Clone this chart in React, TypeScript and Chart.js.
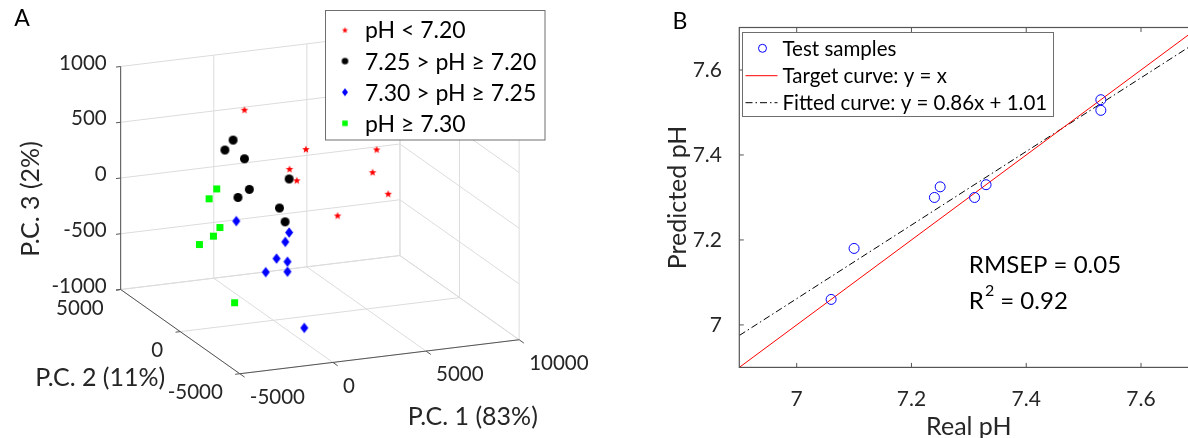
import React, { useEffect, useRef } from 'react';
import { Chart, registerables } from 'chart.js';

Chart.register(...registerables);

const FAMILY = 'Lato, "Open Sans", "DejaVu Sans", sans-serif';
const TEXT = '#262626';
const AXIS = '#555555';
const GRID = '#dcdcdc';

// ---------------- Panel A : PCA scores ----------------
const groupLabels = ['pH < 7.20', '7.25 > pH ≥ 7.20', '7.30 > pH ≥ 7.25', 'pH ≥ 7.30'];

const redPC1 = [-1550, 1750, 5550, 870, 1260, 5330, 6170, 3450];
const redPC2 = [0, 0, 0, 0, 0, 0, 0, 0];
const redPC3 = [920, 500, 420, 340, 230, 220, 10, -130];

const blackPC1 = [-2160, -2600, -1550, 850, -1290, -1900, 330, 630];
const blackPC2 = [0, 0, 0, 0, 0, 0, 0, 0];
const blackPC3 = [660, 580, 480, 250, 200, 140, 0, -130];

const bluePC1 = [-1990, 850, 640, 170, 760, -410, 760, 380];
const bluePC2 = [0, 0, 0, 0, 0, 0, 0, -2000];
const bluePC3 = [-70, -230, -310, -450, -490, -560, -580, -925];

const greenPC1 = [-3040, -3450, -2870, -3220, -3970, -2080];
const greenPC2 = [0, 0, 0, 0, 0, 0];
const greenPC3 = [240, 160, -110, -180, -240, -800];

const pc1Ticks = [-5000, 0, 5000, 10000];
const pc2Ticks = [5000, 0, -5000];
const pc3Ticks = [-1000, -500, 0, 500, 1000];

const pcTitles = ['P.C. 1 (83%)', 'P.C. 2 (11%)', 'P.C. 3 (2%)'];

// ---------------- Panel B : predicted vs real pH ----------------
const realPH = [7.06, 7.1, 7.24, 7.25, 7.31, 7.33, 7.53, 7.53];
const predictedPH = [7.06, 7.18, 7.3, 7.325, 7.3, 7.33, 7.53, 7.505];
const phTicks = [7, 7.2, 7.4, 7.6];
const phRange = [6.9, 7.7];
const seriesLabelsB = ['Test samples', 'Target curve: y = x', 'Fitted curve: y = 0.86x + 1.01'];
const statsText = ['RMSEP = 0.05', '0.92'];
const statsPos = { x: 7.3, y: [7.14, 7.055] };

// view geometry of the 3-D axes box (orthographic projection)
const view = {
  originX: 117,
  originY: 291.5,
  pc1: [0.019, -0.00233],
  pc2: [-0.01216, -0.00866],
  pc3: [0, -0.11465],
};
const PC1_MIN = pc1Ticks[0];
const PC1_MAX = pc1Ticks[pc1Ticks.length - 1];
const PC2_MAX = pc2Ticks[0];
const PC2_MIN = pc2Ticks[pc2Ticks.length - 1];
const PC3_MIN = pc3Ticks[0];
const PC3_MAX = pc3Ticks[pc3Ticks.length - 1];

function project(p1: number, p2: number, p3: number) {
  const d1 = p1 - PC1_MIN;
  const d2 = p2 - PC2_MAX;
  const d3 = p3 - PC3_MIN;
  return {
    x: view.originX + d1 * view.pc1[0] + d2 * view.pc2[0] + d3 * view.pc3[0],
    y: view.originY + d1 * view.pc1[1] + d2 * view.pc2[1] + d3 * view.pc3[1],
  };
}

function makeMarker(kind: string, color: string, w: number, h: number): HTMLCanvasElement {
  const c = document.createElement('canvas');
  c.width = Math.ceil(w + 2);
  c.height = Math.ceil(h + 2);
  const g = c.getContext('2d')!;
  const cx = c.width / 2;
  const cy = c.height / 2;
  g.fillStyle = color;
  g.beginPath();
  if (kind === 'star') {
    const R = w / 2;
    const r = R * 0.42;
    for (let i = 0; i < 10; i++) {
      const ang = -Math.PI / 2 + (i * Math.PI) / 5;
      const rad = i % 2 === 0 ? R : r;
      const px = cx + rad * Math.cos(ang);
      const py = cy + rad * Math.sin(ang) + R * 0.1;
      if (i === 0) g.moveTo(px, py);
      else g.lineTo(px, py);
    }
    g.closePath();
  } else if (kind === 'circle') {
    g.arc(cx, cy, w / 2, 0, Math.PI * 2);
  } else if (kind === 'diamond') {
    g.moveTo(cx, cy - h / 2);
    g.lineTo(cx + w / 2, cy);
    g.lineTo(cx, cy + h / 2);
    g.lineTo(cx - w / 2, cy);
    g.closePath();
  } else {
    g.rect(cx - w / 2, cy - h / 2, w, h);
  }
  g.fill();
  return c;
}

function lsFit(xs: number[], ys: number[]) {
  const n = xs.length;
  const mx = xs.reduce((s, v) => s + v, 0) / n;
  const my = ys.reduce((s, v) => s + v, 0) / n;
  let sxx = 0;
  let sxy = 0;
  for (let i = 0; i < n; i++) {
    sxx += (xs[i] - mx) * (xs[i] - mx);
    sxy += (xs[i] - mx) * (ys[i] - my);
  }
  const slope = sxy / sxx;
  return { slope, intercept: my - slope * mx };
}

export default function App() {
  const refA = useRef<HTMLCanvasElement>(null);
  const refB = useRef<HTMLCanvasElement>(null);

  useEffect(() => {
    document.body.style.margin = '0';
    const groups = [
      { label: groupLabels[0], pc1: redPC1, pc2: redPC2, pc3: redPC3, marker: makeMarker('star', '#ff0000', 8, 8), legend: makeMarker('star', '#ff0000', 6.5, 6.5) },
      { label: groupLabels[1], pc1: blackPC1, pc2: blackPC2, pc3: blackPC3, marker: makeMarker('circle', '#000000', 9, 9), legend: makeMarker('circle', '#000000', 6.5, 6.5) },
      { label: groupLabels[2], pc1: bluePC1, pc2: bluePC2, pc3: bluePC3, marker: makeMarker('diamond', '#0000ff', 8, 10.5), legend: makeMarker('diamond', '#0000ff', 6, 8) },
      { label: groupLabels[3], pc1: greenPC1, pc2: greenPC2, pc3: greenPC3, marker: makeMarker('square', '#00ff00', 7, 7), legend: makeMarker('square', '#00ff00', 5.5, 5.5) },
    ];

    const pcaFrame = {
      id: 'pcaFrame',
      beforeDatasetsDraw(chart: any) {
        const ctx = chart.ctx;
        const sx = chart.scales.x;
        const sy = chart.scales.y;
        const P = (a: number, b: number, c: number) => {
          const q = project(a, b, c);
          return [sx.getPixelForValue(q.x), sy.getPixelForValue(q.y)];
        };
        const seg = (p: number[], q: number[]) => {
          ctx.beginPath();
          ctx.moveTo(p[0], p[1]);
          ctx.lineTo(q[0], q[1]);
          ctx.stroke();
        };
        ctx.save();
        ctx.lineWidth = 1;
        ctx.strokeStyle = GRID;
        // back wall (P.C. 2 = max)
        pc3Ticks.forEach((v) => seg(P(PC1_MIN, PC2_MAX, v), P(PC1_MAX, PC2_MAX, v)));
        pc1Ticks.forEach((v) => seg(P(v, PC2_MAX, PC3_MIN), P(v, PC2_MAX, PC3_MAX)));
        // side wall (P.C. 1 = max)
        pc3Ticks.forEach((v) => seg(P(PC1_MAX, PC2_MAX, v), P(PC1_MAX, PC2_MIN, v)));
        pc2Ticks.forEach((v) => seg(P(PC1_MAX, v, PC3_MIN), P(PC1_MAX, v, PC3_MAX)));
        // floor (P.C. 3 = min)
        pc1Ticks.forEach((v) => seg(P(v, PC2_MAX, PC3_MIN), P(v, PC2_MIN, PC3_MIN)));
        pc2Ticks.forEach((v) => seg(P(PC1_MIN, v, PC3_MIN), P(PC1_MAX, v, PC3_MIN)));

        // axis lines
        ctx.strokeStyle = AXIS;
        seg(P(PC1_MIN, PC2_MAX, PC3_MIN), P(PC1_MIN, PC2_MAX, PC3_MAX));
        seg(P(PC1_MIN, PC2_MAX, PC3_MIN), P(PC1_MIN, PC2_MIN, PC3_MIN));
        seg(P(PC1_MIN, PC2_MIN, PC3_MIN), P(PC1_MAX, PC2_MIN, PC3_MIN));
        // tick marks
        pc3Ticks.forEach((v) => seg(P(PC1_MIN, PC2_MAX, v), P(PC1_MIN - 250, PC2_MAX, v)));
        pc2Ticks.forEach((v) => seg(P(PC1_MIN, v, PC3_MIN), P(PC1_MIN - 250, v, PC3_MIN)));
        pc1Ticks.forEach((v) => seg(P(v, PC2_MIN, PC3_MIN), P(v, PC2_MIN - 400, PC3_MIN)));

        // tick labels
        ctx.fillStyle = TEXT;
        ctx.font = `20.5px ${FAMILY}`;
        ctx.textBaseline = 'middle';
        ctx.textAlign = 'right';
        pc3Ticks.forEach((v) => {
          const p = P(PC1_MIN, PC2_MAX, v);
          ctx.fillText(String(v), p[0] - 14, p[1] - 3.5);
        });
        pc2Ticks.forEach((v) => {
          const p = P(PC1_MIN, v, PC3_MIN);
          ctx.fillText(String(v), p[0] - 17, p[1] + 19);
        });
        ctx.textAlign = 'left';
        pc1Ticks.forEach((v) => {
          const p = P(v, PC2_MIN, PC3_MIN);
          ctx.fillText(String(v), p[0] + 10, p[1] + 23.5);
        });

        // axis titles
        ctx.font = `25px ${FAMILY}`;
        ctx.textAlign = 'center';
        const t1 = P(5200, PC2_MIN, PC3_MIN);
        ctx.fillText(pcTitles[0], t1[0] + 43, t1[1] + 66);
        ctx.textAlign = 'right';
        const t2 = P(PC1_MIN, 0, PC3_MIN);
        ctx.fillText(pcTitles[1], t2[0] - 15, t2[1] + 46);
        const t3 = P(PC1_MIN, PC2_MAX, 0);
        ctx.save();
        ctx.translate(t3[0] - 90, t3[1] + 21);
        ctx.rotate(-Math.PI / 2);
        ctx.textAlign = 'center';
        ctx.fillText(pcTitles[2], 0, 0);
        ctx.restore();

        // panel letter
        ctx.font = `23px ${FAMILY}`;
        ctx.textAlign = 'center';
        ctx.fillStyle = '#000';
        ctx.fillText('A', 22, 19);
        ctx.restore();
      },
      afterDraw(chart: any) {
        const ctx = chart.ctx;
        ctx.save();
        const bx = 325.5;
        const by = 10.5;
        const bw = 219.5;
        const bh = 129.5;
        ctx.fillStyle = '#fff';
        ctx.fillRect(bx, by, bw, bh);
        ctx.strokeStyle = '#6e6e6e';
        ctx.lineWidth = 1;
        ctx.strokeRect(bx, by, bw, bh);
        ctx.font = `23px ${FAMILY}`;
        ctx.fillStyle = '#000';
        ctx.textAlign = 'left';
        ctx.textBaseline = 'middle';
        groups.forEach((g, i) => {
          const y = by + 19.5 + i * 31.1;
          const m = g.legend;
          ctx.drawImage(m, bx + 19.5 - m.width / 2, y - m.height / 2);
          ctx.fillText(g.label, bx + 39.5, y + 1);
        });
        ctx.restore();
      },
    };

    const chartA = new Chart(refA.current!, {
      type: 'scatter',
      data: {
        datasets: groups.map((g) => ({
          label: g.label,
          data: g.pc1.map((v, i) => project(v, g.pc2[i], g.pc3[i])),
          pointStyle: g.marker as any,
          pointRadius: 5,
          pointHoverRadius: 5,
        })),
      },
      options: {
        animation: false,
        responsive: false,
        events: [],
        layout: { padding: 0 },
        plugins: { legend: { display: false }, tooltip: { enabled: false } },
        scales: {
          x: { type: 'linear', display: false, min: 0, max: 600 },
          y: { type: 'linear', display: false, min: 0, max: 438, reverse: true },
        },
      },
      plugins: [pcaFrame],
    } as any);

    // ---------------- Panel B ----------------
    const fit = lsFit(realPH, predictedPH);
    const dashDot = [7, 3, 1.5, 3];

    const boxB = {
      id: 'boxB',
      afterDatasetsDraw(chart: any) {
        const ctx = chart.ctx;
        const a = chart.chartArea;
        const sx = chart.scales.x;
        const sy = chart.scales.y;
        ctx.save();
        ctx.strokeStyle = AXIS;
        ctx.lineWidth = 1.2;
        ctx.strokeRect(a.left, a.top, a.right - a.left, a.bottom - a.top);
        ctx.lineWidth = 1;
        phTicks.forEach((v) => {
          const x = sx.getPixelForValue(v);
          ctx.beginPath();
          ctx.moveTo(x, a.bottom);
          ctx.lineTo(x, a.bottom - 4.5);
          ctx.moveTo(x, a.top);
          ctx.lineTo(x, a.top + 4.5);
          ctx.stroke();
          const y = sy.getPixelForValue(v);
          ctx.beginPath();
          ctx.moveTo(a.left, y);
          ctx.lineTo(a.left + 4.5, y);
          ctx.moveTo(a.right, y);
          ctx.lineTo(a.right - 4.5, y);
          ctx.stroke();
        });
        // statistics text
        ctx.fillStyle = '#000';
        ctx.font = `24px ${FAMILY}`;
        ctx.textAlign = 'left';
        ctx.textBaseline = 'middle';
        const tx = sx.getPixelForValue(statsPos.x);
        ctx.fillText(statsText[0], tx, sy.getPixelForValue(statsPos.y[0]));
        const ry = sy.getPixelForValue(statsPos.y[1]);
        ctx.fillText('R', tx, ry);
        const rw = ctx.measureText('R').width;
        ctx.font = `16px ${FAMILY}`;
        ctx.fillText('2', tx + rw + 1, ry - 11);
        const sw = ctx.measureText('2').width;
        ctx.font = `24px ${FAMILY}`;
        ctx.fillText(' = ' + statsText[1], tx + rw + 1 + sw, ry);
        // panel letter
        ctx.font = `23px ${FAMILY}`;
        ctx.textAlign = 'center';
        ctx.fillText('B', 80, 21.5);
        ctx.restore();
      },
      afterDraw(chart: any) {
        const ctx = chart.ctx;
        const a = chart.chartArea;
        const ds = chart.data.datasets;
        ctx.save();
        const bx = Math.round(a.left + 2.4) + 0.5;
        const by = Math.round(a.top + 4.2) + 0.5;
        const bw = 311;
        const bh = 84;
        ctx.fillStyle = '#fff';
        ctx.fillRect(bx, by, bw, bh);
        ctx.strokeStyle = '#6e6e6e';
        ctx.lineWidth = 1;
        ctx.strokeRect(bx, by, bw, bh);
        ctx.font = `20.5px ${FAMILY}`;
        ctx.fillStyle = '#000';
        ctx.textBaseline = 'middle';
        ctx.textAlign = 'left';
        const rows = [15.8, 43.2, 70.2];
        // marker entry
        ctx.strokeStyle = ds[0].borderColor;
        ctx.beginPath();
        ctx.arc(bx + 20, by + rows[0], 4, 0, Math.PI * 2);
        ctx.stroke();
        // line entries
        ctx.strokeStyle = ds[1].borderColor;
        ctx.beginPath();
        ctx.moveTo(bx + 3, by + rows[1]);
        ctx.lineTo(bx + 35, by + rows[1]);
        ctx.stroke();
        ctx.strokeStyle = ds[2].borderColor;
        ctx.setLineDash(dashDot);
        ctx.beginPath();
        ctx.moveTo(bx + 3, by + rows[2]);
        ctx.lineTo(bx + 35, by + rows[2]);
        ctx.stroke();
        ctx.setLineDash([]);
        ds.forEach((d: any, i: number) => {
          ctx.fillText(d.label, bx + 40, by + rows[i] + 1);
        });
        ctx.restore();
      },
    };

    const chartB = new Chart(refB.current!, {
      type: 'scatter',
      data: {
        datasets: [
          {
            label: seriesLabelsB[0],
            data: realPH.map((x, i) => ({ x, y: predictedPH[i] })),
            pointStyle: 'circle',
            pointRadius: 5,
            pointHoverRadius: 5,
            borderColor: '#0000ff',
            backgroundColor: 'rgba(0,0,0,0)',
            borderWidth: 1,
            showLine: false,
          },
          {
            label: seriesLabelsB[1],
            data: phRange.map((v) => ({ x: v, y: v })),
            showLine: true,
            borderColor: '#ff0000',
            borderWidth: 1,
            pointRadius: 0,
          },
          {
            label: seriesLabelsB[2],
            data: phRange.map((v) => ({ x: v, y: fit.slope * v + fit.intercept })),
            showLine: true,
            borderColor: '#000000',
            borderWidth: 1,
            borderDash: dashDot,
            pointRadius: 0,
          },
        ],
      },
      options: {
        animation: false,
        responsive: false,
        events: [],
        layout: { padding: { top: 27.5, right: 11.6, left: 0, bottom: 0 } },
        plugins: { legend: { display: false }, tooltip: { enabled: false } },
        scales: {
          x: {
            type: 'linear',
            min: phRange[0],
            max: phRange[1],
            grid: { display: false },
            border: { display: false },
            afterBuildTicks: (s: any) => {
              s.ticks = phTicks.map((v) => ({ value: v }));
            },
            afterFit: (s: any) => {
              s.height = 70.6;
            },
            ticks: {
              font: { family: FAMILY, size: 21 },
              color: TEXT,
              padding: 11.7,
              maxRotation: 0,
              autoSkip: false,
              callback: (v: any) => String(Number(v)),
            },
            title: {
              display: true,
              text: 'Real pH',
              font: { family: FAMILY, size: 25, lineHeight: 0.9 },
              color: TEXT,
              padding: 0,
            },
          },
          y: {
            type: 'linear',
            min: phRange[0],
            max: phRange[1],
            grid: { display: false },
            border: { display: false },
            afterBuildTicks: (s: any) => {
              s.ticks = phTicks.map((v) => ({ value: v }));
            },
            afterFit: (s: any) => {
              s.width = 139.3;
            },
            ticks: {
              font: { family: FAMILY, size: 21 },
              color: TEXT,
              padding: 9.3,
              autoSkip: false,
              callback: (v: any) => String(Number(v)),
            },
            title: {
              display: true,
              text: 'Predicted pH',
              font: { family: FAMILY, size: 25, lineHeight: 1 },
              color: TEXT,
              padding: { top: 65.5, bottom: 0 },
            },
          },
        },
      },
      plugins: [boxB],
    } as any);

    return () => {
      chartA.destroy();
      chartB.destroy();
    };
  }, []);

  return (
    <div style={{ position: 'fixed', left: 0, top: 0, width: 1188, height: 438, overflow: 'hidden', background: '#fff' }}>
      <div style={{ position: 'absolute', left: 0, top: 0, width: 600, height: 438 }}>
        <canvas ref={refA} width={600} height={438} />
      </div>
      <div style={{ position: 'absolute', left: 600, top: 0, width: 610, height: 438 }}>
        <canvas ref={refB} width={610} height={438} />
      </div>
    </div>
  );
}
